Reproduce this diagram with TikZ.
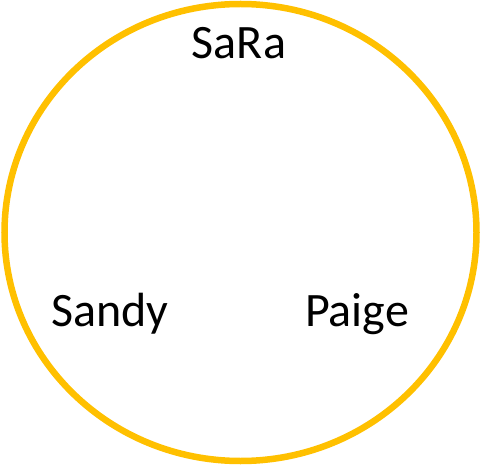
\documentclass[tikz,border=0pt]{standalone}
\usepackage{fontspec}
\setmainfont{Carlito}
\definecolor{ringgold}{HTML}{FFC000}
\tikzset{lbl/.style={font=\fontsize{48}{54}\selectfont, text=black, inner sep=0pt, anchor=base}}
\begin{document}
\begin{tikzpicture}[x=1pt,y=-1pt]
\useasboundingbox (0,0) rectangle (482,465);
\draw[ringgold, line width=6.5pt] (240.5,232.5) ellipse [x radius=236, y radius=228.5];
\node[lbl] (sara) at (239,59) {SaRa};
\node[lbl] (sandy) at (110,326) {Sandy};
\node[lbl] (paige) at (357,326) {Paige};
\end{tikzpicture}
\end{document}
